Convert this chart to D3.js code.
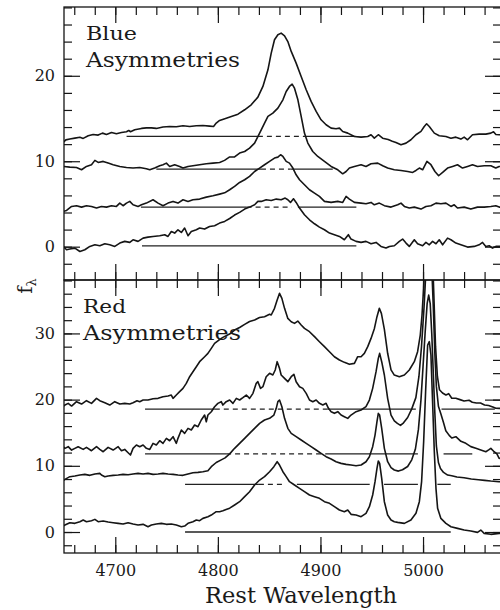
<!DOCTYPE html>
<html><head><meta charset="utf-8">
<script src="https://cdn.jsdelivr.net/npm/d3@7"></script>
<style>body{margin:0;background:#fff}svg{display:block}</style>
</head><body><svg id="c" width="500" height="610"></svg>
<script>
// ---------- DATA (wavelength in Å, flux f_lambda) ----------
const blue1 = [[4649.2,12.2],[4651.8,12.5],[4655.7,12.6],[4660.6,12.7],[4665.5,12.8],[4668.7,12.67],[4673.6,12.98],[4678.4,13.13],[4683.3,13.06],[4687.5,13.29],[4691.4,13.13],[4696.3,13.37],[4701.1,13.21],[4706.0,13.37],[4710.9,13.45],[4713.1,13.6],[4714.8,13.45],[4719.0,13.68],[4725.5,13.84],[4730.3,13.9],[4735.2,13.9],[4740.0,13.84],[4746.5,14.0],[4753.0,14.07],[4759.5,14.03],[4766.0,14.15],[4772.5,14.07],[4779.0,14.15],[4785.4,14.19],[4791.9,14.11],[4795.8,14.07],[4798.4,14.46],[4801.7,14.77],[4808.2,15.04],[4813.1,15.24],[4819.6,15.51],[4826.1,16.02],[4832.5,16.6],[4839.0,17.5],[4843.9,18.75],[4848.8,20.7],[4852.0,22.65],[4855.2,24.21],[4858.5,24.8],[4861.7,24.99],[4865.0,24.68],[4868.2,24.0],[4871.5,22.85],[4876.3,21.48],[4881.2,19.92],[4886.1,18.36],[4890.9,17.0],[4895.8,15.83],[4900.6,14.85],[4905.5,14.27],[4910.4,13.87],[4915.2,13.8],[4918.5,13.87],[4921.7,13.48],[4926.6,13.29],[4933.1,12.9],[4939.6,12.82],[4946.1,12.9],[4949.3,13.1],[4952.5,12.7],[4956.4,13.1],[4960.6,12.7],[4966,12.55],[4970,12.35],[4973.6,12.2],[4978.5,11.93],[4983.4,12.12],[4988.2,12.51],[4993.1,13.1],[4998.0,13.5],[5001.2,14.07],[5003.5,14.38],[5006.1,14.07],[5011.0,13.29],[5015.8,12.98],[5022.3,12.9],[5027.2,12.7],[5032.0,12.82],[5036.9,12.59],[5040.1,12.82],[5043.4,12.51],[5048.2,13.1],[5054.7,13.17],[5061.2,13.17],[5066.1,13.29],[5068.7,13.45],[5071.0,13.13],[5074.2,13.1],[5078,13.1]];
const blue2 = [[4649.2,9.39],[4655.7,9.31],[4662.2,9.27],[4667.1,9.0],[4671.9,9.39],[4676.8,9.59],[4680.1,10.1],[4683.3,9.86],[4688.2,9.98],[4693.0,9.78],[4697.9,9.59],[4704.4,9.39],[4710.9,9.27],[4717.3,9.2],[4723.8,9.27],[4730.3,9.12],[4733.6,9.0],[4738.4,9.2],[4743.3,9.47],[4746.5,9.59],[4749.8,9.78],[4753.0,9.39],[4757.9,9.59],[4762.7,9.39],[4766.0,9.2],[4770.9,9.39],[4775.7,9.47],[4782.2,9.59],[4788.7,9.7],[4795.2,9.78],[4801.7,9.86],[4806.5,10.1],[4811.5,10.5],[4816.3,10.5],[4821.2,10.95],[4826.1,11.14],[4830.9,11.53],[4835.8,12.12],[4840.7,13.29],[4845.5,14.46],[4848.8,15.24],[4853.6,15.63],[4858.5,16.22],[4863.4,17.19],[4866.6,18.16],[4869.8,18.75],[4872.4,19.02],[4874.7,18.55],[4878.0,17.19],[4881.2,15.24],[4884.4,13.29],[4887.7,12.12],[4892.5,11.14],[4897.4,10.56],[4903.9,9.98],[4910.4,9.39],[4916.9,9.0],[4921.7,8.53],[4925.0,8.8],[4928.2,9.2],[4933.1,9.39],[4939.6,9.59],[4944.4,9.39],[4949.3,9.7],[4955.8,9.78],[4960.7,9.47],[4965.5,9.2],[4972.0,9.0],[4978.5,8.92],[4985.0,8.8],[4989.9,8.69],[4993.1,8.92],[4996.4,9.2],[4999.6,9.0],[5003.8,9.98],[5007.7,9.59],[5011.6,8.8],[5015.2,8.3],[5019.1,8.69],[5023.9,9.2],[5028.8,9.39],[5033.6,9.59],[5038.5,9.2],[5043.4,9.39],[5048.2,9.59],[5053.1,9.39],[5059.6,9.47],[5066.1,9.47],[5070.9,9.2],[5074.2,9.39],[5078,9.39]];
const blue3 = [[4649.2,4.12],[4652.5,4.24],[4657.4,4.71],[4662.2,4.79],[4667.1,4.63],[4671.9,4.79],[4676.8,4.71],[4681.7,4.52],[4686.5,4.71],[4691.4,4.63],[4696.3,4.79],[4701.1,4.71],[4704.4,5.1],[4707.6,4.79],[4710.9,5.1],[4714.1,5.3],[4717.3,4.9],[4722.2,4.71],[4725.5,4.9],[4730.3,5.1],[4736.8,5.49],[4741.7,5.1],[4746.5,4.79],[4751.4,5.1],[4756.3,5.3],[4761.1,5.1],[4766.0,5.49],[4770.9,5.3],[4775.7,5.49],[4782.2,5.57],[4788.7,5.8],[4795.2,5.96],[4801.7,6.15],[4806.6,6.3],[4811.5,6.66],[4816.3,7.05],[4821.2,7.52],[4826.1,7.83],[4830.9,8.22],[4835.8,8.8],[4840.7,9.2],[4845.5,9.59],[4850.4,9.98],[4855.2,10.37],[4858.5,10.48],[4861.1,10.76],[4863.4,10.56],[4866.6,9.98],[4869.8,9.78],[4873.1,9.2],[4876.3,8.41],[4879.6,7.83],[4884.4,7.25],[4889.3,6.66],[4894.2,6.27],[4899.0,5.88],[4903.9,5.3],[4910.4,5.18],[4916.9,5.3],[4921.7,5.18],[4925.0,5.88],[4928.2,5.57],[4933.1,5.18],[4939.6,5.1],[4944.4,5.02],[4949.3,5.18],[4952.5,4.9],[4957.4,5.1],[4962.3,4.8],[4968.8,4.63],[4975.3,4.9],[4978.5,5.1],[4981.8,4.71],[4986.6,4.52],[4991.5,4.63],[4998.0,4.4],[5002.8,4.71],[5007.7,4.79],[5012.6,5.1],[5017.4,5.02],[5022.3,5.1],[5027.2,4.71],[5030.4,4.9],[5033.6,4.52],[5040.1,4.63],[5046.6,4.4],[5053.1,4.63],[5059.6,4.63],[5066.1,4.71],[5070.9,4.79],[5074.2,4.63],[5078,4.63]];
const blue4 = [[4649.2,0.03],[4652.5,-0.36],[4655.7,-0.28],[4660.6,-0.17],[4665.5,-0.56],[4670.3,-0.36],[4675.2,0.03],[4680.1,0.22],[4684.9,0.11],[4689.8,0.34],[4694.6,0.22],[4699.5,0.03],[4704.4,0.42],[4709.2,0.62],[4714.1,0.5],[4717.3,0.81],[4722.2,0.62],[4727.1,1.0],[4731.9,1.12],[4736.8,1.2],[4743.3,1.28],[4748.2,1.4],[4751.4,1.2],[4754.6,1.78],[4757.9,1.59],[4761.1,1.98],[4764.4,1.67],[4767.6,2.18],[4770.9,1.28],[4774.1,1.78],[4779.0,1.98],[4782.2,2.18],[4787.1,2.06],[4791.9,2.37],[4796.8,2.45],[4801.7,2.76],[4806.6,2.96],[4811.5,3.3],[4816.3,3.7],[4821.2,4.01],[4826.1,4.4],[4830.9,4.63],[4835.8,4.9],[4839.0,5.3],[4842.3,5.3],[4847.1,5.49],[4852.0,5.41],[4856.9,5.57],[4861.7,5.49],[4865.6,5.69],[4868.2,5.49],[4870.8,5.18],[4873.7,5.61],[4876.3,5.18],[4879.6,4.52],[4884.4,3.74],[4889.3,3.15],[4894.2,2.68],[4899.0,2.29],[4903.9,1.98],[4908.8,1.59],[4913.6,1.4],[4918.5,1.2],[4923.3,0.81],[4927.2,1.4],[4929.8,0.89],[4934.7,0.62],[4939.6,0.5],[4944.4,0.62],[4949.3,0.34],[4954.2,0.5],[4959.0,0.03],[4963.9,-0.16],[4967.2,0.03],[4972.0,0.11],[4976.9,0.62],[4980.1,0.89],[4983.4,0.42],[4986.6,0.03],[4991.5,0.81],[4994.7,0.34],[4999.6,0.11],[5002.8,0.5],[5006.1,0.22],[5009.3,0.62],[5012.6,0.34],[5015.8,0.81],[5019.1,0.22],[5023.9,1.0],[5027.2,0.81],[5032.0,0.42],[5036.9,0.22],[5043.4,-0.05],[5049.9,0.03],[5054.7,0.22],[5058.0,0.5],[5061.2,0.03],[5064.5,0.11],[5067.7,-0.17],[5071.0,0.03],[5074.2,0.03],[5078,0.03]];

const red1 = [[4647.6,18.83],[4650.9,19.18],[4654.1,19.43],[4657.4,19.03],[4662.2,19.69],[4667.1,19.33],[4671.9,19.84],[4676.8,19.43],[4681.7,20.19],[4684.9,19.84],[4689.8,19.53],[4694.6,19.18],[4699.5,19.69],[4704.4,19.33],[4709.2,19.43],[4714.1,19.33],[4717.3,19.53],[4721.2,19.84],[4723.8,19.69],[4727.1,19.94],[4731.9,19.94],[4736.8,20.14],[4741.7,20.19],[4746.5,20.44],[4751.4,20.54],[4754.6,20.69],[4756.3,20.19],[4759.5,20.69],[4762.7,21.2],[4766.0,21.7],[4769.2,22.45],[4772.5,23.46],[4775.7,24.2],[4779.0,24.97],[4782.2,25.73],[4787.1,26.48],[4790.3,26.99],[4793.6,27.74],[4796.8,28.5],[4801.0,29.0],[4804.9,29.4],[4811.4,29.9],[4816.3,30.51],[4821.2,30.9],[4826.1,31.37],[4830.9,31.8],[4835.8,32.02],[4840.6,32.4],[4845.5,32.53],[4850.4,32.9],[4852.0,32.78],[4855.2,33.79],[4857.8,35.04],[4860.1,36.05],[4862.4,35.3],[4865.0,33.79],[4868.2,32.27],[4871.5,31.77],[4874.7,31.52],[4877.9,31.87],[4881.2,31.27],[4884.4,30.76],[4889.3,30.26],[4894.2,29.51],[4899.0,28.75],[4903.9,28.0],[4908.8,27.24],[4913.6,26.48],[4918.5,25.98],[4923.3,25.63],[4928.2,25.33],[4933.1,25.48],[4936.3,26.48],[4939.6,26.48],[4942.8,26.99],[4946.1,28.0],[4949.3,29.25],[4952.6,30.76],[4955.1,32.53],[4957.4,33.79],[4959.4,33.03],[4962.3,30.6],[4965.5,27.0],[4968.8,24.5],[4972.0,23.71],[4976.9,23.46],[4981.8,23.71],[4986.6,24.47],[4991.5,25.73],[4994.7,27.24],[4997.3,29.76],[4999.0,32.78],[5000.6,37.0],[5002.5,45],[5005.5,55],[5008.5,45],[5010.5,36],[5012.2,28],[5014.0,23.5],[5016.0,21.5],[5019,21.0],[5022.3,20.7],[5025,20.9],[5028,20.2],[5032,20.2],[5036,20.0],[5040,19.8],[5044.9,19.9],[5048,19.6],[5052,19.5],[5056,19.5],[5060,19.2],[5064,19.1],[5068,18.9],[5071,18.7],[5074.2,18.68],[5078,18.7]];
const red2 = [[4647.6,13.14],[4650.9,12.64],[4654.1,12.89],[4657.4,12.38],[4660.6,12.64],[4663.8,12.89],[4668.7,12.48],[4671.9,12.79],[4676.8,12.28],[4681.7,12.89],[4684.9,12.48],[4688.2,12.13],[4693.0,12.79],[4697.9,12.38],[4702.8,12.89],[4706.0,12.28],[4709.2,12.48],[4712.5,11.98],[4714.8,11.63],[4717.3,12.64],[4720.6,13.14],[4723.8,12.89],[4727.1,13.14],[4730.3,12.64],[4733.6,12.48],[4736.8,13.39],[4740.0,13.14],[4743.3,13.79],[4746.5,13.39],[4749.8,14.15],[4753.0,13.79],[4756.3,14.4],[4759.5,13.39],[4761.1,14.15],[4764.4,15.41],[4767.6,14.9],[4770.9,15.66],[4774.1,15.41],[4777.3,16.16],[4780.6,15.91],[4783.8,16.92],[4787.1,17.67],[4788.7,16.66],[4790.3,17.67],[4793.6,18.17],[4796.8,18.93],[4800.0,19.43],[4803.3,19.69],[4804.9,19.18],[4808.1,19.69],[4811.5,19.94],[4814.7,19.44],[4818.0,20.19],[4821.2,19.94],[4824.4,20.29],[4827.7,20.69],[4830.9,20.19],[4834.2,20.95],[4837.4,22.46],[4839.0,22.71],[4841.6,21.7],[4843.9,21.95],[4847.1,23.46],[4850.4,23.97],[4853.6,23.72],[4855.9,24.47],[4857.8,25.73],[4860.1,24.72],[4861.7,23.72],[4865.0,23.21],[4868.2,22.71],[4871.5,23.46],[4874.1,23.82],[4876.3,22.71],[4879.6,21.95],[4882.8,21.7],[4886.1,20.95],[4889.3,19.94],[4892.5,19.69],[4895.8,19.94],[4899.0,19.44],[4902.3,19.18],[4905.5,19.44],[4907.8,18.68],[4910.4,18.18],[4913.6,17.93],[4916.9,18.18],[4920.1,17.67],[4923.3,17.42],[4926.6,17.17],[4929.8,17.67],[4934.7,18.18],[4939.6,18.43],[4944.4,18.93],[4947.7,19.94],[4950.9,21.7],[4954.2,24.22],[4956.4,26.23],[4957.7,26.99],[4959.7,25.73],[4962.3,23.72],[4965.5,20.19],[4968.8,17.67],[4972.0,16.8],[4975,16.4],[4978,16.1],[4981,16.5],[4985,17.3],[4989,18.6],[4993,20.3],[4996,23.5],[4998.5,28],[5001,34],[5003,40],[5005.5,48],[5008,42],[5010,34],[5011.5,27],[5013,22],[5015,19],[5017.5,17.8],[5020,16.5],[5022.2,15.3],[5025.5,14.6],[5028,14.2],[5032,14.4],[5036.9,13.7],[5041.7,13.4],[5046.6,12.9],[5051.5,12.64],[5056.3,12.39],[5061.2,12.13],[5064,12.4],[5066.1,12.64],[5069.3,12.13],[5072,11.8],[5074.2,11.13],[5078,11.2]];
const red3 = [[4647.6,7.6],[4650.9,7.95],[4655.7,8.36],[4660.6,8.46],[4665.5,8.61],[4670.3,8.71],[4675.2,8.56],[4680.1,8.76],[4684.9,8.86],[4686.5,8.61],[4689.8,8.36],[4693.0,8.46],[4697.9,8.56],[4702.8,8.61],[4707.6,8.71],[4712.5,8.66],[4717.3,8.76],[4722.2,8.86],[4727.1,8.76],[4731.9,8.86],[4736.8,8.71],[4741.7,8.76],[4746.5,8.86],[4751.4,8.76],[4756.3,8.71],[4761.1,8.61],[4766.0,8.56],[4770.9,8.76],[4775.7,8.96],[4780.6,9.01],[4785.4,9.11],[4790.3,9.26],[4793.6,9.87],[4798.4,10.5],[4803.3,10.9],[4807,11.2],[4811.5,11.8],[4816.3,12.64],[4821.2,13.39],[4826.1,14.15],[4830.9,14.9],[4835.8,15.66],[4840.7,16.41],[4845.5,16.92],[4850.4,17.17],[4854.6,17.67],[4856.9,18.68],[4858.5,19.69],[4860.1,19.94],[4862.4,18.93],[4865.0,17.17],[4868.2,15.66],[4871.5,14.9],[4876.3,14.4],[4881.2,13.9],[4886.1,13.39],[4890.9,12.89],[4895.8,12.39],[4900.6,11.88],[4905.5,11.38],[4910.4,11.03],[4915.2,10.62],[4920.1,10.37],[4925.0,10.22],[4929.8,10.12],[4934.7,10.02],[4939.6,10.12],[4944.4,10.62],[4947.7,11.38],[4950.9,12.89],[4953.2,14.65],[4955.1,16.67],[4956.4,17.92],[4957.7,17.67],[4959.7,15.66],[4962.3,12.64],[4965.5,10.62],[4968.8,9.72],[4972.0,9.37],[4976,9.2],[4980,9.4],[4985,9.9],[4989,10.9],[4992.5,12.5],[4995.5,15.5],[4998,20],[5000,25],[5002,30],[5004,34.5],[5005.5,35.8],[5007,34.5],[5008.5,30],[5010,24],[5011.5,18],[5013,13],[5015,10.5],[5017,9.6],[5020,9.0],[5024,8.6],[5028,8.5],[5033,8.3],[5040,8.2],[5047,8.0],[5054,7.9],[5060,7.8],[5066,7.7],[5074,7.6],[5078,7.6]];
const red4 = [[4647.6,0.8],[4650.9,1.05],[4655.7,1.41],[4660.6,1.31],[4665.5,1.56],[4668.7,1.81],[4671.9,1.56],[4676.8,1.71],[4680.1,1.91],[4683.3,1.56],[4688.2,1.66],[4693.0,1.51],[4697.9,1.41],[4702.8,1.31],[4707.6,1.21],[4712.5,1.41],[4717.3,1.21],[4722.2,1.05],[4727.1,1.16],[4731.9,0.8],[4735.2,1.05],[4740.0,1.21],[4744.9,1.31],[4749.8,1.16],[4754.6,1.21],[4759.5,1.05],[4764.4,0.8],[4767.6,0.9],[4770.9,1.31],[4775.7,1.56],[4779.0,1.81],[4782.2,1.71],[4785.4,2.06],[4790.3,2.31],[4793.6,2.56],[4798.4,3.07],[4801.7,3.07],[4804.9,3.2],[4808,3.4],[4811.5,3.6],[4816.3,4.08],[4821.2,4.58],[4826.1,5.34],[4830.9,6.09],[4835.8,7.1],[4840.7,7.85],[4845.5,8.36],[4850.4,9.11],[4854.6,9.87],[4857.8,10.62],[4860.1,10.12],[4863.4,9.11],[4866.6,8.36],[4869.8,7.6],[4874.7,7.1],[4879.6,6.6],[4884.4,6.09],[4889.3,5.59],[4894.2,5.34],[4899.0,5.09],[4903.9,4.58],[4908.8,4.33],[4913.6,3.83],[4918.5,3.32],[4923.3,3.07],[4926.6,3.32],[4929.8,2.67],[4934.7,2.57],[4939.6,2.32],[4944.4,2.82],[4947.7,3.83],[4950.9,5.59],[4953.2,7.6],[4955.1,9.62],[4956.4,10.73],[4957.7,10.37],[4959.7,8.11],[4962.3,4.58],[4965.5,2.57],[4968.8,1.81],[4972.0,1.56],[4975.3,1.46],[4981.8,1.31],[4988.2,1.81],[4993.1,2.82],[4996.4,4.58],[4998.6,7.6],[5000.6,13.64],[5002.5,21.2],[5004.5,28.25],[5006.1,28.75],[5007.7,26.74],[5009.3,19.69],[5011,12.13],[5012.6,6.6],[5014.2,3.58],[5017.4,2.06],[5022.3,1.31],[5027.2,0.8],[5033.6,0.55],[5040.1,0.3],[5046.6,0.15],[5053.1,-0.05],[5056.3,0.3],[5059.6,-0.2],[5066.1,-0.35],[5074.2,-0.2],[5078,-0.2]];

// continuum baselines: [level, start wavelength, end wavelength, dashed?]
const blueBaselines = [
  [12.9,4711,4839,0],[12.9,4839,4884,1],[12.9,4884,4935,0],
  [9.08,4740,4842,0],[9.08,4842,4871,1],[9.08,4871,4912,0],
  [4.63,4725,4828,0],[4.63,4828,4872,1],[4.63,4878,4935,0],
  [0.1,4726,4935,0]
];
const redBaselines = [
  [18.55,4729,4797,0],[18.55,4797,4907,1],[18.55,4907,4993,0],[18.55,5018,5070,0],
  [11.8,4729,4808,0],[11.8,4808,4905,1],[11.8,4905,4995,0],[11.8,5020,5048,0],
  [7.2,4768,4840,0],[7.2,4840,4866,1],[7.2,4877,4948,0],[7.2,4962,4995,0],[7.2,5014,5027,0],
  [0,4768,5027,0]
];

const xMajorTicks = [4700,4800,4900,5000];
const xTickLabels = ["4700","4800","4900","5000"];
const xMinorTicks = [4660,4680,4700,4720,4740,4760,4780,4800,4820,4840,4860,4880,4900,4920,4940,4960,4980,5000,5020,5040,5060];
const yTopMajor = [0,10,20];
const yTopMinor = [-2,0,2,4,6,8,10,12,14,16,18,20,22,24,26,28];
const yBotMajor = [0,10,20,30];
const yBotMinor = [-2,0,2,4,6,8,10,12,14,16,18,20,22,24,26,28,30,32,34,36,38];
const panelTitles = [["Blue","Asymmetries"],["Red","Asymmetries"]];

// ---------- LAYOUT ----------
const L = 64, R = 501, T = 7, M = 280, B = 553;
const svg = d3.select("#c");
const serif = "'DejaVu Serif', 'Liberation Serif', serif";
const ink = "#151515";

const x = d3.scaleLinear().domain([4650, 5076]).range([L, R]);
const yTop = d3.scaleLinear().domain([-3.9, 28.05]).range([M, T]);
const yBot = d3.scaleLinear().domain([-3.17, 38.07]).range([B, M]);

const defs = svg.append("defs");
defs.append("clipPath").attr("id","clipTop").append("rect").attr("x",L).attr("y",T).attr("width",R-L).attr("height",M-T);
defs.append("clipPath").attr("id","clipBot").append("rect").attr("x",L).attr("y",M).attr("width",R-L).attr("height",B-M);

function drawPanel(y, clipId, spectra, baselines) {
  const g = svg.append("g").attr("clip-path", `url(#${clipId})`);
  const line = d3.line().x(d => x(d[0])).y(d => y(d[1]));
  baselines.forEach(b => {
    g.append("path").attr("d", line([[b[1], b[0]], [b[2], b[0]]]))
      .attr("fill","none").attr("stroke", "#222").attr("stroke-width", 1.3)
      .attr("stroke-dasharray", b[3] ? "5,4" : null);
  });
  spectra.forEach(s => {
    g.append("path").attr("d", line(s)).attr("fill","none")
      .attr("stroke", ink).attr("stroke-width", 1.6).attr("stroke-linejoin","round");
  });
}
drawPanel(yTop, "clipTop", [blue1, blue2, blue3, blue4], blueBaselines);
drawPanel(yBot, "clipBot", [red1, red2, red3, red4], redBaselines);

// ---------- AXES ----------
function styleAxis(g) {
  g.select(".domain").remove();
  g.selectAll(".tick line").attr("stroke", ink).attr("stroke-width", 1.2);
  g.selectAll("text").attr("font-family", serif).attr("font-size", 16).attr("fill", "#1a1a1a");
}
function xAxes(yPos, gen, withLabels) {
  svg.append("g").attr("transform", `translate(0,${yPos})`)
    .call(gen(x).tickValues(xMinorTicks).tickSize(-8).tickFormat("")).call(styleAxis);
  const maj = gen(x).tickValues(xMajorTicks).tickSize(-16).tickPadding(12)
    .tickFormat(withLabels ? ((d, i) => xTickLabels[i]) : "");
  svg.append("g").attr("transform", `translate(0,${yPos})`).call(maj).call(styleAxis);
}
xAxes(T, d3.axisTop, false);
xAxes(M, d3.axisBottom, false);
xAxes(M, d3.axisTop, false);
xAxes(B, d3.axisBottom, true);

function yAxes(y, minor, major) {
  svg.append("g").attr("transform", `translate(${L},0)`)
    .call(d3.axisLeft(y).tickValues(minor).tickSize(-8).tickFormat("")).call(styleAxis);
  svg.append("g").attr("transform", `translate(${L},0)`)
    .call(d3.axisLeft(y).tickValues(major).tickSize(-16).tickPadding(9).tickFormat(d3.format("d"))).call(styleAxis);
  svg.append("g").attr("transform", `translate(${R},0)`)
    .call(d3.axisRight(y).tickValues(minor).tickSize(-8).tickFormat("")).call(styleAxis);
  svg.append("g").attr("transform", `translate(${R},0)`)
    .call(d3.axisRight(y).tickValues(major).tickSize(-16).tickFormat("")).call(styleAxis);
}
yAxes(yTop, yTopMinor, yTopMajor);
yAxes(yBot, yBotMinor, yBotMajor);

// frames
svg.append("rect").attr("x",L).attr("y",T).attr("width",R-L).attr("height",M-T)
  .attr("fill","none").attr("stroke",ink).attr("stroke-width",1.3);
svg.append("rect").attr("x",L).attr("y",M).attr("width",R-L).attr("height",B-M)
  .attr("fill","none").attr("stroke",ink).attr("stroke-width",1.3);

// ---------- TEXT ----------
function label(txt, xp, yp, size, len, anchor) {
  const t = svg.append("text").attr("x", xp).attr("y", yp).text(txt)
    .attr("font-family", serif).attr("font-size", size).attr("fill", "#1a1a1a")
    .attr("text-anchor", anchor || "start");
  if (len) t.attr("textLength", len).attr("lengthAdjust", "spacingAndGlyphs");
  return t;
}
label(panelTitles[0][0], 86, 40, 19, 51);
label(panelTitles[0][1], 86, 66.5, 20, 154);
label(panelTitles[1][0], 83, 313, 19, 43);
label(panelTitles[1][1], 83, 340, 20, 158);
label("Rest Wavelength", 301, 603, 22, 192, "middle");

const yl = svg.append("text").attr("transform", "translate(32,286) rotate(-90)")
  .attr("font-family", serif).attr("fill", "#1a1a1a").attr("text-anchor", "middle");
yl.append("tspan").attr("font-size", 20).text("f");
yl.append("tspan").attr("font-size", 13).attr("dy", 4).text("λ");
</script></body></html>
